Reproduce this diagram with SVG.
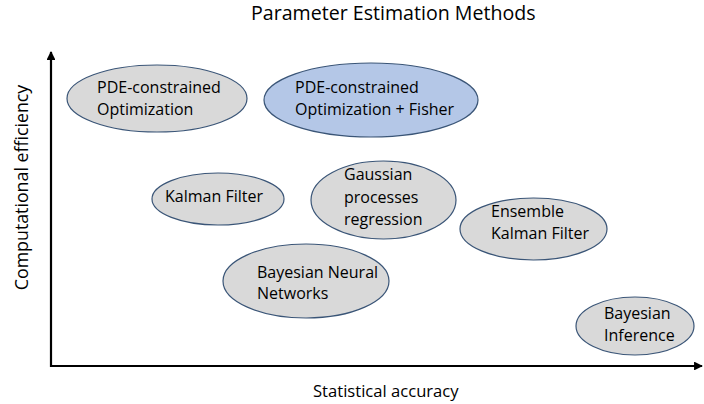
<svg xmlns="http://www.w3.org/2000/svg" width="704" height="404" viewBox="0 0 704 404">
<style>
text{font-family:"Open Sans","Noto Sans",sans-serif;fill:#000;}
.lbl{font-size:16px;}
.ax{font-size:16.6px;}
.node{stroke:#3A5577;stroke-width:1.2;}
.gray{fill:#D9D9D9;}
.blue{fill:#B4C7E7;}
.axis{stroke:#000;stroke-width:2.2;fill:none;}
</style>
<defs>
<marker id="arr" viewBox="0 0 10 10" refX="9" refY="5" markerWidth="4" markerHeight="4" orient="auto" markerUnits="strokeWidth">
<path d="M0,0 L10,5 L0,10 z" fill="#000"/>
</marker>
</defs>
<rect width="704" height="404" fill="#fff"/>
<text x="251" y="20" style="font-size:19.6px">Parameter Estimation Methods</text>
<g id="connectors">
<line class="axis" x1="51" y1="367" x2="51" y2="52" marker-end="url(#arr)"/>
<line class="axis" x1="50" y1="366" x2="702" y2="366" marker-end="url(#arr)"/>
</g>
<text class="ax" x="313" y="397">Statistical accuracy</text>
<text class="ax" transform="translate(28,187.5) rotate(-90)" text-anchor="middle" style="font-size:17.8px">Computational efficiency</text>
<g id="pde">
<ellipse class="node gray" cx="157" cy="98.5" rx="90" ry="33.5"/>
<text class="lbl" x="97" y="93">PDE-constrained</text>
<text class="lbl" x="97" y="115">Optimization</text>
</g>
<g id="pde-fisher">
<ellipse class="node blue" cx="371" cy="100" rx="107" ry="37"/>
<text class="lbl" x="295" y="93">PDE-constrained</text>
<text class="lbl" x="295" y="115">Optimization + Fisher</text>
</g>
<g id="kalman">
<ellipse class="node gray" cx="218" cy="199" rx="66" ry="26"/>
<text class="lbl" x="165" y="201.5">Kalman Filter</text>
</g>
<g id="gaussian">
<ellipse class="node gray" cx="383.5" cy="200" rx="72.5" ry="39"/>
<text class="lbl" x="344" y="180">Gaussian</text>
<text class="lbl" x="344" y="203">processes</text>
<text class="lbl" x="344" y="225">regression</text>
</g>
<g id="enkf">
<ellipse class="node gray" cx="533.5" cy="229" rx="73.5" ry="31"/>
<text class="lbl" x="491" y="217">Ensemble</text>
<text class="lbl" x="491" y="239">Kalman Filter</text>
</g>
<g id="bnn">
<ellipse class="node gray" cx="306" cy="281" rx="83" ry="37"/>
<text class="lbl" x="257" y="278">Bayesian Neural</text>
<text class="lbl" x="257" y="299">Networks</text>
</g>
<g id="bayes">
<ellipse class="node gray" cx="635" cy="326" rx="59" ry="29"/>
<text class="lbl" x="604" y="319">Bayesian</text>
<text class="lbl" x="604" y="341">Inference</text>
</g>
</svg>
